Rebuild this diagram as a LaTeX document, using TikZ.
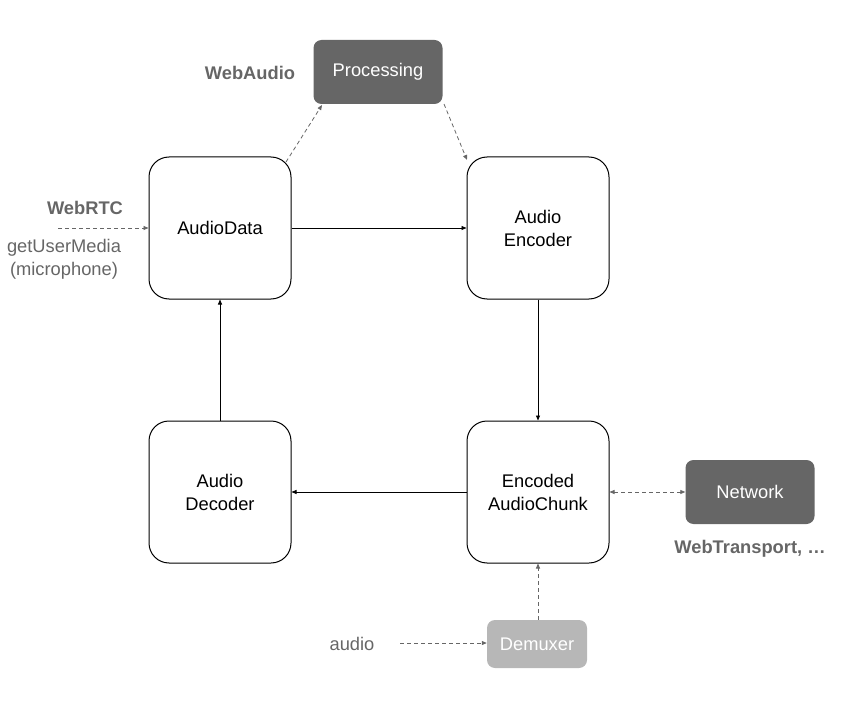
\documentclass[tikz,border=0pt]{standalone}
\usepackage{fontspec}
\setmainfont{Liberation Sans}
\usetikzlibrary{arrows.meta}
\definecolor{dk}{HTML}{666666}
\definecolor{lt}{HTML}{B7B7B7}
\begin{document}
\begin{tikzpicture}[x=1pt,y=-1pt,
  every node/.style={font=\fontsize{18.3}{23}\selectfont},
  bigbox/.style={draw=black,line width=1pt,rounded corners=20pt,minimum width=142pt,minimum height=142pt,align=center,inner sep=0pt},
  darkbox/.style={fill=dk,text=white,rounded corners=8pt,minimum width=129pt,minimum height=64pt,inner sep=0pt},
  lightbox/.style={fill=lt,text=white,rounded corners=8pt,minimum width=100pt,minimum height=48pt,inner sep=0pt},
  lbl/.style={text=dk,align=center},
  blbl/.style={text=dk,font=\fontsize{18.3}{23}\selectfont\bfseries},
  solidarr/.style={draw=black,line width=0.9pt,-{Triangle[length=5pt,width=4pt]}},
  dasharr/.style={draw=dk,line width=0.8pt,dash pattern=on 4pt off 3pt,-{Triangle[length=5pt,width=4pt]}}
]
\useasboundingbox (0,0) rectangle (863,706);
\node[bigbox] (ad) at (220,228) {AudioData};
\node[bigbox] (enc) at (538,228) {Audio\\Encoder};
\node[bigbox] (dec) at (220,492) {Audio\\Decoder};
\node[bigbox] (chunk) at (538,492) {Encoded\\AudioChunk};
\node[darkbox] (proc) at (378,72) {Processing};
\node[darkbox] (net) at (750,492) {Network};
\node[lightbox] (demux) at (537,644) {Demuxer};
\node[blbl] (webaudio) at (250,73) {WebAudio};
\node[blbl] (webrtc) at (85,208) {WebRTC};
\node[lbl] (gum) at (64,259) {getUserMedia\\(microphone)};
\node[blbl] (wt) at (750,549) {WebTransport, \dots};
\node[lbl] (audio) at (352,644) {audio};
\coordinate (rtcin) at (58,228);
\coordinate (audin) at (400,643);
\coordinate (adc) at (286,162);
\coordinate (procbl) at (322,105);
\coordinate (procbr) at (444,104);
\coordinate (encc) at (467,160);

\draw[solidarr] (ad.east) -- (enc.west);
\draw[solidarr] (enc.south) -- (chunk.north);
\draw[solidarr] (chunk.west) -- (dec.east);
\draw[solidarr] (dec.north) -- (ad.south);
\draw[dasharr] (rtcin) -- (rtcin -| ad.west);
\draw[dasharr] (adc) -- (procbl);
\draw[dasharr] (procbr) -- (encc);
\draw[dasharr,{Triangle[length=5pt,width=4pt]}-{Triangle[length=5pt,width=4pt]}] (chunk.east) -- (chunk.east -| net.west);
\draw[dasharr] (demux.north -| chunk.south) -- (chunk.south);
\draw[dasharr] (audin) -- (audin -| demux.west);
\end{tikzpicture}
\end{document}
